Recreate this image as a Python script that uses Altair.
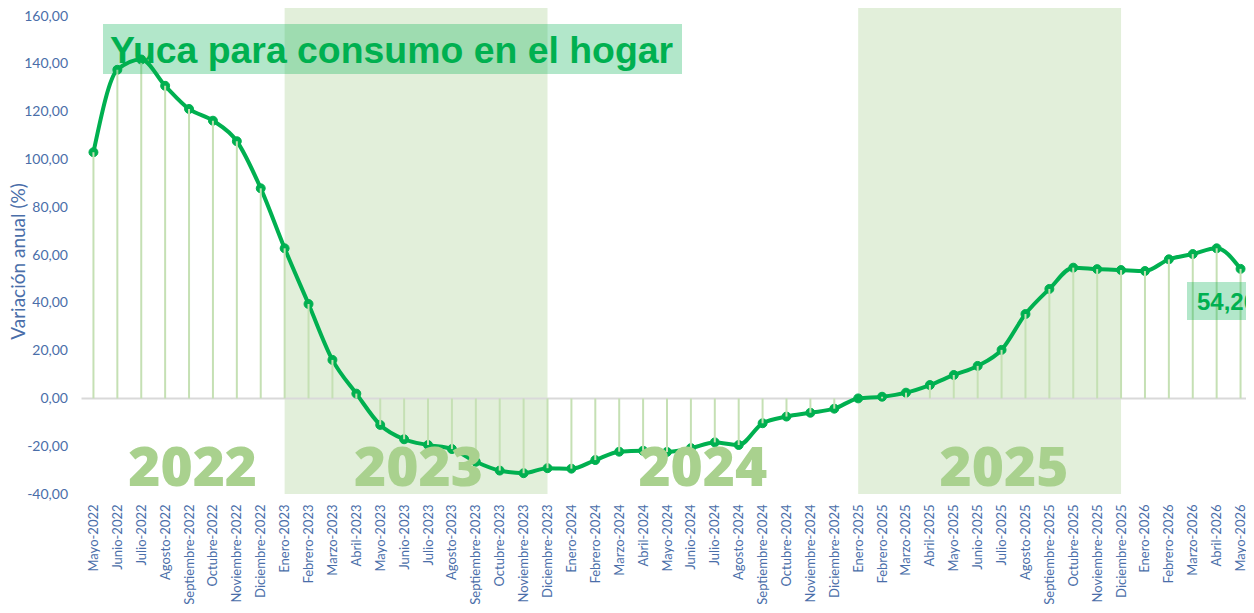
import json
import altair as alt
import pandas as pd

# ---------------- data ----------------
meses = ["Enero", "Febrero", "Marzo", "Abril", "Mayo", "Junio", "Julio",
         "Agosto", "Septiembre", "Octubre", "Noviembre", "Diciembre"]
etiquetas = [f"{meses[(4 + i) % 12]}-{2022 + (4 + i) // 12}" for i in range(49)]

valores = [103.0, 137.5, 141.8, 130.8, 121.1, 116.2, 107.6, 87.9,
           62.8, 39.5, 16.1, 2.0, -11.1, -17.1, -19.5, -21.2, -26.5, -30.2, -31.3, -29.2,
           -29.4, -25.8, -22.3, -21.9, -22.4, -20.8, -18.4, -19.5, -10.4, -7.6, -6.0, -4.3,
           0.0, 0.7, 2.4, 5.6, 9.8, 13.6, 20.3, 35.3, 45.8, 54.7, 54.1, 53.7,
           53.3, 58.2, 60.4, 62.8, 54.2]

anios = ["2022", "2023", "2024", "2025"]
anios_pos = [4.15, 13.6, 25.5, 38.1]          # month-index position of year labels
anios_sombreados = ["2023", "2025"]

titulo = "Yuca para consumo en el hogar"
eje_y = "Variación anual (%)"

# ---------------- tables ----------------
df = pd.DataFrame({"idx": list(range(len(etiquetas))), "mes": etiquetas, "valor": valores})
sombras = pd.DataFrame([
    {"ini": min(i for i, e in enumerate(etiquetas) if e.endswith(a)),
     "fin": max(i for i, e in enumerate(etiquetas) if e.endswith(a))}
    for a in anios_sombreados])
df_anios = pd.DataFrame({"anio": anios, "pos": anios_pos})
etiqueta_final = f"{valores[-1]:.2f}".replace(".", ",")

W, H = 1164, 478
RANGO_X = 1171
AZUL = "#4a6ea9"
VERDE = "#00b050"

xs = alt.Scale(domain=[-0.5, len(etiquetas) - 0.5], range=[0, RANGO_X], nice=False, zero=False)
ys = alt.Scale(domain=[-40, 160], nice=False, zero=False)

x_axis = alt.Axis(values=list(range(len(etiquetas))),
                  labelExpr=json.dumps(etiquetas) + "[datum.value]",
                  labelAngle=270, labelOverlap=False, labelFlush=False,
                  labelFont="Lato", labelFontSize=13, labelColor=AZUL,
                  labelPadding=10, ticks=False, domain=False, grid=False, title=None)
y_axis = alt.Axis(values=list(range(-40, 161, 20)),
                  labelExpr="replace(replace(format(datum.value, '.2f'), '.', ','), '\u2212', '-')",
                  labelFont="Lato", labelFontSize=14, labelColor=AZUL, labelPadding=14,
                  ticks=False, domain=False, grid=False,
                  title=eje_y, titleFont="Lato", titleFontSize=19, titleFontWeight="normal",
                  titleColor=AZUL, titleX=-63, titleY=245, titleAngle=270,
                  titleAlign="center", titleBaseline="middle")

X_IDX = alt.X("idx:Q", scale=xs, axis=x_axis)
Y_VAL = alt.Y("valor:Q", scale=ys, axis=y_axis)

rects = alt.Chart(sombras).mark_rect(color="#e2efda").encode(
    x=alt.X("ini:Q", scale=xs, axis=x_axis), x2="fin:Q",
    y=alt.value(-11), y2=alt.value(H))

cero = alt.Chart(pd.DataFrame({"c": [0]})).mark_rule(color="#d9d9d9", strokeWidth=2).encode(
    y=alt.Y("c:Q", scale=ys, axis=y_axis), x=alt.value(0), x2=alt.value(RANGO_X))

linea = alt.Chart(df).mark_line(color=VERDE, strokeWidth=4, interpolate="monotone").encode(
    x=X_IDX, y=Y_VAL)

puntos = alt.Chart(df).mark_point(filled=True, shape="circle", size=80, color=VERDE,
                                  opacity=1, stroke=VERDE, strokeWidth=1).encode(
    x=X_IDX, y=Y_VAL)

caidas = alt.Chart(df).mark_rule(color="#c5e0b4", strokeWidth=2).encode(
    x=X_IDX, y=Y_VAL, y2=alt.datum(0))

textos_anios = alt.Chart(df_anios).mark_text(
    font="Open Sans", fontWeight=800, fontSize=55, color="#a9d18e",
    align="center", baseline="alphabetic").encode(
    x=alt.X("pos:Q", scale=xs, axis=x_axis), y=alt.value(470), text="anio:N")

caja_titulo = alt.Chart(pd.DataFrame({"t": [titulo]})).mark_rect(color=VERDE, opacity=0.3).encode(
    x=alt.value(21.5), x2=alt.value(600.5), y=alt.value(8), y2=alt.value(58))
texto_titulo = alt.Chart(pd.DataFrame({"t": [titulo]})).mark_text(
    font="Liberation Sans", fontWeight="bold", fontSize=37.4, color=VERDE,
    align="left", baseline="alphabetic").encode(
    x=alt.value(28.5), y=alt.value(47), text="t:N")

caja_final = alt.Chart(pd.DataFrame({"t": [etiqueta_final]})).mark_rect(color=VERDE, opacity=0.3).encode(
    x=alt.value(1105.5), x2=alt.value(1230), y=alt.value(266), y2=alt.value(304))
texto_final = alt.Chart(pd.DataFrame({"t": [etiqueta_final]})).mark_text(
    font="Liberation Sans", fontWeight="bold", fontSize=24, color=VERDE,
    align="left", baseline="alphabetic").encode(
    x=alt.value(1115.5), y=alt.value(294), text="t:N")

chart = alt.layer(rects, cero, linea, puntos, caidas, textos_anios,
                  caja_titulo, texto_titulo, caja_final, texto_final).properties(
    width=W, height=H,
    autosize=alt.AutoSizeParams(type="none"),
    padding={"left": 73.5, "top": 8, "right": 0, "bottom": 110},
    background="white",
).configure_view(stroke=None)

chart.save("out.html", embed_options={"renderer": "svg", "actions": False})
